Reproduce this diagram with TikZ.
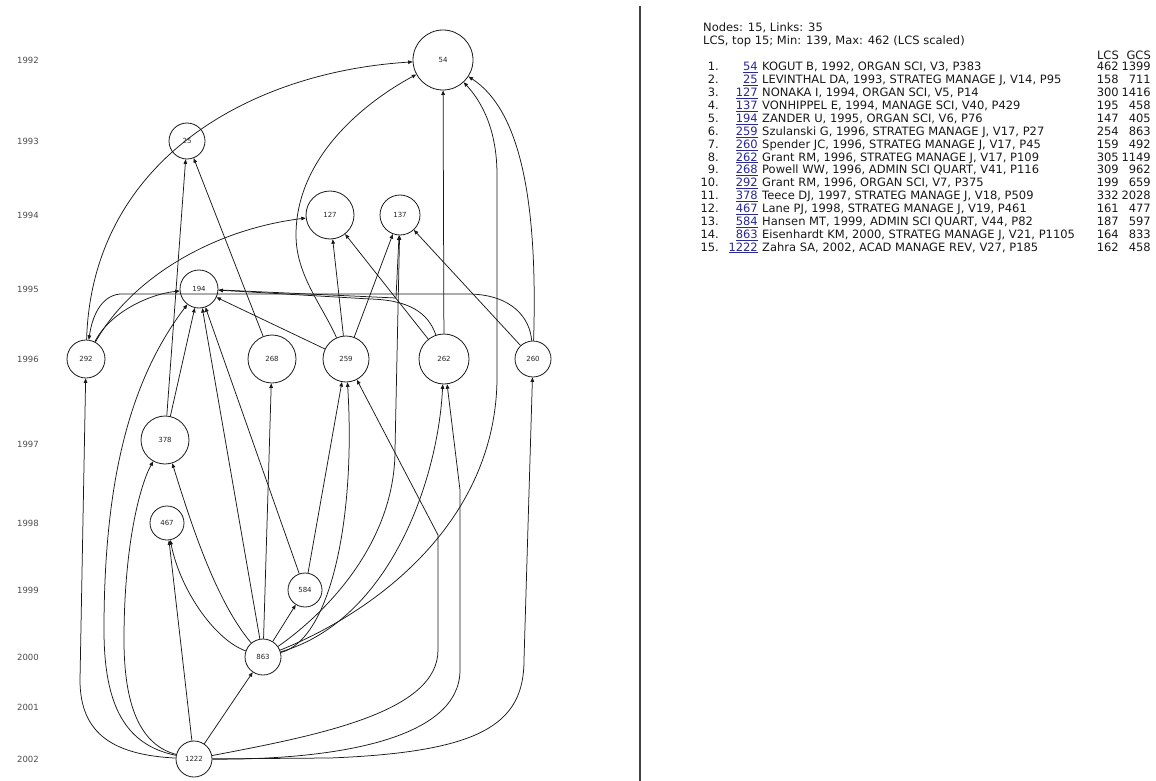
\documentclass[tikz,border=0pt]{standalone}
\usepackage{fontspec}
\setmainfont{DejaVu Sans}
\usetikzlibrary{arrows.meta}
\definecolor{linkblue}{RGB}{40,40,150}
\begin{document}
\begin{tikzpicture}[x=1pt,y=-1pt,
  nd/.style={draw=black!90, circle, line width=0.8pt, inner sep=0pt, fill=white,
             font=\fontsize{7}{7}\selectfont, text=black!85},
  e/.style={draw=black!90, line width=0.75pt, -{Triangle[length=4.5pt,width=3.6pt]}},
  yr/.style={font=\fontsize{8.5}{8.5}\selectfont, text=black!70},
  tx/.style={font=\fontsize{11.5}{12}\selectfont, inner sep=0pt, text=black!90},
  tw/.style={tx, anchor=base west},
  te/.style={tx, anchor=base east},
  lk/.style={te, text=linkblue}]
\useasboundingbox (0,0) rectangle (1156,781);
\fill[white] (0,0) rectangle (1156,781);

% divider
\draw[black!75, line width=1.2pt] (640,6) -- (640,781);

% year labels
\foreach \yy/\v in {1992/60,1993/141,1994/215,1995/289,1996/359,1997/444,1998/523,1999/590,2000/657,2001/707,2002/759}
  \node[yr] (y\yy) at (28,\v) {\yy};

% nodes
\node[nd, minimum size=60pt] (n54)   at (443,60)  {54};
\node[nd, minimum size=36pt] (n25)   at (187,141) {25};
\node[nd, minimum size=48pt] (n127)  at (330,215) {127};
\node[nd, minimum size=40pt] (n137)  at (400,215) {137};
\node[nd, minimum size=38pt] (n194)  at (199,289) {194};
\node[nd, minimum size=38pt] (n292)  at (86,359)  {292};
\node[nd, minimum size=48pt] (n268)  at (272,359) {268};
\node[nd, minimum size=46pt] (n259)  at (346,359) {259};
\node[nd, minimum size=50pt] (n262)  at (444,359) {262};
\node[nd, minimum size=36pt] (n260)  at (533,359) {260};
\node[nd, minimum size=48pt] (n378)  at (165,440) {378};
\node[nd, minimum size=34pt] (n467)  at (167,523) {467};
\node[nd, minimum size=34pt] (n584)  at (305,590) {584};
\node[nd, minimum size=36pt] (n863)  at (263,657) {863};
\node[nd, minimum size=36pt] (n1222) at (194,759) {1222};

% edges
\draw[e] (n292) .. controls (92,160) and (250,72) .. (n54);
\draw[e] (n259) .. controls (322,305) and (296,275) .. (296,235) .. controls (296,160) and (360,105) .. (n54);
\draw[e] (n262) -- (n54);
\draw[e] (n260) .. controls (538,200) and (520,110) .. (n54);
\draw[e] (n863) .. controls (380,610) and (495,520) .. (497,380) -- (497,175) .. controls (497,130) and (482,102) .. (n54);
\draw[e] (n378) -- (n25);
\draw[e] (n268) -- (n25);
\draw[e] (n292) .. controls (130,280) and (210,230) .. (n127);
\draw[e] (n259) -- (n127);
\draw[e] (n262) -- (n127);
\draw[e] (n259) -- (n137);
\draw[e] (n194) -- (396,298) -- (n137);
\draw[e] (n863) .. controls (330,610) and (395,540) .. (395,450) -- (n137);
\draw[e] (n260) -- (n137);
\draw[e] (n292) .. controls (110,312) and (150,294) .. (n194);
\draw[e] (n259) -- (n194);
\draw[e] (n262) .. controls (428,312) and (408,300) .. (370,299) -- (n194);
\draw[e] (n260) .. controls (530,318) and (512,295) .. (470,294) -- (120,294) .. controls (100,296) and (92,318) .. (n292);
\draw[e] (n378) -- (n194);
\draw[e] (n1222) .. controls (125,745) and (104,705) .. (104,630) .. controls (104,480) and (130,380) .. (n194);
\draw[e] (n863) -- (n194);
\draw[e] (n584) -- (n194);
\draw[e] (n1222) .. controls (115,755) and (80,735) .. (80,680) -- (n292);
\draw[e] (n1222) .. controls (140,745) and (124,705) .. (124,640) .. controls (124,545) and (140,485) .. (n378);
\draw[e] (n1222) -- (n467);
\draw[e] (n863) .. controls (215,640) and (180,590) .. (n467);
\draw[e] (n863) .. controls (215,600) and (190,520) .. (n378);
\draw[e] (n863) -- (n268);
\draw[e] (n584) -- (n259);
\draw[e] (n863) -- (n584);
\draw[e] (n1222) -- (n863);
\draw[e] (n863) .. controls (330,640) and (356,520) .. (n259);
\draw[e] (n1222) .. controls (320,735) and (438,712) .. (438,650) -- (438,535) -- (n259);
\draw[e] (n863) .. controls (390,620) and (438,480) .. (n262);
\draw[e] (n1222) .. controls (340,760) and (460,738) .. (460,670) -- (460,490) -- (n262);
\draw[e] (n1222) -- (330,758) .. controls (480,752) and (524,725) .. (524,660) -- (n260);

% text panel
\node[tw] (hdr1) at (703,32) {Nodes: 15, Links: 35};
\node[tw] (hdr2) at (703,45) {LCS, top 15; Min: 139, Max: 462 (LCS scaled)};
\node[te] (hlcs) at (1119,60) {LCS};
\node[te] (hgcs) at (1151,60) {GCS};

\foreach \i/\l/\t/\a/\b in {
 1/54/{KOGUT B, 1992, ORGAN SCI, V3, P383}/462/1399,
 2/25/{LEVINTHAL DA, 1993, STRATEG MANAGE J, V14, P95}/158/711,
 3/127/{NONAKA I, 1994, ORGAN SCI, V5, P14}/300/1416,
 4/137/{VONHIPPEL E, 1994, MANAGE SCI, V40, P429}/195/458,
 5/194/{ZANDER U, 1995, ORGAN SCI, V6, P76}/147/405,
 6/259/{Szulanski G, 1996, STRATEG MANAGE J, V17, P27}/254/863,
 7/260/{Spender JC, 1996, STRATEG MANAGE J, V17, P45}/159/492,
 8/262/{Grant RM, 1996, STRATEG MANAGE J, V17, P109}/305/1149,
 9/268/{Powell WW, 1996, ADMIN SCI QUART, V41, P116}/309/962,
 10/292/{Grant RM, 1996, ORGAN SCI, V7, P375}/199/659,
 11/378/{Teece DJ, 1997, STRATEG MANAGE J, V18, P509}/332/2028,
 12/467/{Lane PJ, 1998, STRATEG MANAGE J, V19, P461}/161/477,
 13/584/{Hansen MT, 1999, ADMIN SCI QUART, V44, P82}/187/597,
 14/863/{Eisenhardt KM, 2000, STRATEG MANAGE J, V21, P1105}/164/833,
 15/1222/{Zahra SA, 2002, ACAD MANAGE REV, V27, P185}/162/458}
{
  \pgfmathsetmacro{\bl}{71+12.86*(\i-1)}
  \node[te] (num\i) at (719,\bl) {\i.};
  \node[lk] (lnk\i) at (758,\bl) {\underline{\l}};
  \node[tw] (txt\i) at (762,\bl) {\t};
  \node[te] (lcs\i) at (1119,\bl) {\a};
  \node[te] (gcs\i) at (1151,\bl) {\b};
}
\end{tikzpicture}
\end{document}
